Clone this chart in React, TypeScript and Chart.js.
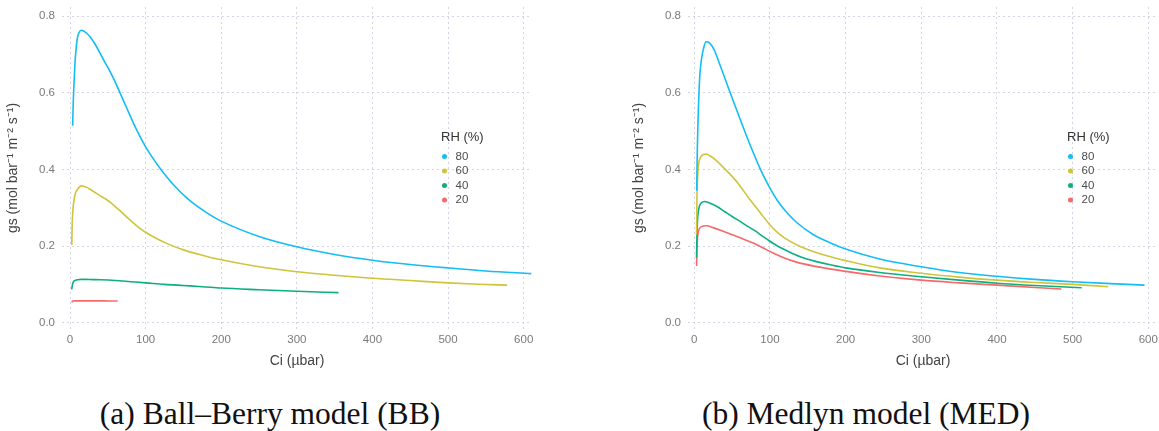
import React, { useEffect, useRef } from 'react';
import { Chart, registerables } from 'chart.js';

Chart.register(...registerables);

// ---------- labels, ticks, colours ----------
const seriesLabels = ['80', '60', '40', '20'];
const seriesColors = ['#14BDF2', '#CFC43A', '#0DAF80', '#F6696B'];
const legendTitle = 'RH (%)';
const xTitle = 'Ci (µbar)';
const yTitle = 'gs (mol bar⁻¹ m⁻² s⁻¹)';
const captionA = '(a) Ball–Berry model (BB)';
const captionB = '(b) Medlyn model (MED)';

const xTicks = [0, 100, 200, 300, 400, 500, 600];
const xTickLabels = ['0', '100', '200', '300', '400', '500', '600'];
const yTicks = [0, 0.2, 0.4, 0.6, 0.8];
const yTickLabels = ['0.0', '0.2', '0.4', '0.6', '0.8'];

// ---------- Ball–Berry (BB) ----------
const bbCi80 = [3.5, 4.2, 5.3, 6.5, 7.9, 9.7, 12, 14.6, 18, 22, 26.5, 33, 39.7, 46, 53, 60, 66, 75, 84, 92, 99, 110, 119, 135, 157, 180, 200, 250, 300, 350, 400, 450, 500, 550, 610];
const bbGs80 = [0.514, 0.57, 0.625, 0.675, 0.711, 0.742, 0.757, 0.763, 0.761, 0.755, 0.746, 0.727, 0.703, 0.68, 0.655, 0.627, 0.6, 0.56, 0.52, 0.488, 0.462, 0.428, 0.403, 0.364, 0.321, 0.288, 0.265, 0.225, 0.198, 0.178, 0.163, 0.152, 0.143, 0.135, 0.128];

const bbCi60 = [2.3, 2.8, 3.5, 4.3, 5.3, 7, 9.7, 12, 14.6, 18, 22, 26.5, 33, 40, 47.7, 55, 62, 70, 77, 84, 92, 100, 115, 130, 150, 175, 200, 250, 300, 350, 400, 450, 500, 540, 578];
const bbGs60 = [0.203, 0.25, 0.285, 0.305, 0.32, 0.337, 0.347, 0.353, 0.357, 0.356, 0.353, 0.348, 0.34, 0.331, 0.322, 0.311, 0.299, 0.285, 0.272, 0.26, 0.247, 0.236, 0.219, 0.205, 0.19, 0.176, 0.164, 0.146, 0.133, 0.124, 0.116, 0.11, 0.104, 0.1005, 0.098];

const bbCi40 = [2.3, 3, 4, 5.5, 7.5, 10, 15, 20, 30, 40, 60, 80, 100, 125, 150, 175, 200, 250, 300, 355];
const bbGs40 = [0.087, 0.097, 0.105, 0.109, 0.111, 0.112, 0.113, 0.113, 0.1125, 0.112, 0.11, 0.107, 0.104, 0.1, 0.097, 0.094, 0.0905, 0.086, 0.082, 0.0785];

const bbCi20 = [2.3, 3, 4, 6, 10, 20, 30, 40, 50, 63];
const bbGs20 = [0.053, 0.0555, 0.0565, 0.057, 0.057, 0.057, 0.057, 0.057, 0.0568, 0.0566];

// ---------- Medlyn (MED) ----------
const medCi80 = [3.2, 4, 5, 6, 7.5, 9.7, 12.8, 15.5, 20, 26, 34, 45, 55, 65, 76, 87, 98, 110, 122, 135, 157, 180, 200, 245, 300, 350, 400, 450, 500, 550, 595];
const medGs80 = [0.344, 0.45, 0.53, 0.59, 0.65, 0.69, 0.72, 0.733, 0.73, 0.713, 0.672, 0.613, 0.56, 0.508, 0.453, 0.402, 0.358, 0.318, 0.288, 0.262, 0.23, 0.208, 0.192, 0.166, 0.146, 0.131, 0.121, 0.113, 0.107, 0.102, 0.098];

const medCi60 = [3, 3.5, 4.2, 5, 6.5, 9, 12, 15.5, 20, 28, 40, 56, 74, 88, 100, 112, 125, 140, 160, 180, 200, 245, 300, 350, 400, 450, 500, 547];
const medGs60 = [0.23, 0.32, 0.37, 0.4, 0.422, 0.434, 0.439, 0.44, 0.436, 0.425, 0.402, 0.368, 0.32, 0.285, 0.255, 0.232, 0.214, 0.199, 0.184, 0.172, 0.162, 0.143, 0.129, 0.119, 0.111, 0.105, 0.1, 0.094];

const medCi40 = [3, 3.5, 4.2, 5, 6.5, 9, 14, 20, 30, 40, 50, 60, 70, 80, 90, 98, 110, 125, 140, 160, 180, 200, 245, 300, 350, 400, 450, 512];
const medGs40 = [0.17, 0.225, 0.265, 0.285, 0.302, 0.312, 0.316, 0.312, 0.303, 0.29, 0.277, 0.265, 0.252, 0.24, 0.226, 0.215, 0.2, 0.185, 0.172, 0.16, 0.151, 0.143, 0.131, 0.12, 0.111, 0.103, 0.097, 0.091];

const medCi20 = [3, 3.5, 4.2, 5, 6.5, 9, 16, 25, 40, 60, 80, 92, 100, 115, 135, 160, 200, 245, 300, 350, 400, 450, 485];
const medGs20 = [0.148, 0.19, 0.22, 0.234, 0.244, 0.25, 0.253, 0.248, 0.237, 0.222, 0.206, 0.194, 0.186, 0.172, 0.158, 0.147, 0.134, 0.122, 0.111, 0.104, 0.098, 0.092, 0.088];

const bbCi = [bbCi80, bbCi60, bbCi40, bbCi20];
const bbGs = [bbGs80, bbGs60, bbGs40, bbGs20];
const medCi = [medCi80, medCi60, medCi40, medCi20];
const medGs = [medGs80, medGs60, medGs40, medGs20];

const SANS = '"Liberation Sans", Arial, Helvetica, sans-serif';

const rhLegend = {
  id: 'rhLegend',
  afterDraw(chart: any) {
    const ctx = chart.ctx;
    const left = chart.chartArea.right - 91;
    ctx.save();
    ctx.textBaseline = 'middle';
    ctx.textAlign = 'left';
    ctx.font = `13px ${SANS}`;
    ctx.fillStyle = '#333333';
    ctx.fillText(legendTitle, left, 137);
    chart.data.datasets.forEach((ds: any, i: number) => {
      const y = 156.5 + i * 14.5;
      ctx.beginPath();
      ctx.arc(left + 3.5, y, 2.5, 0, Math.PI * 2);
      ctx.fillStyle = ds.borderColor;
      ctx.fill();
      ctx.font = `11.5px ${SANS}`;
      ctx.fillStyle = '#4d4d4d';
      ctx.fillText(ds.label, left + 14.5, y);
    });
    ctx.restore();
  },
};

function buildChart(canvas: HTMLCanvasElement, ciList: number[][], gsList: number[][], padRight: number, xMin: number, xMax: number) {
  const datasets = seriesLabels.map((label, i) => ({
    label,
    data: ciList[i].map((x, j) => ({ x, y: gsList[i][j] })),
    borderColor: seriesColors[i],
    backgroundColor: seriesColors[i],
    borderWidth: 1.6,
    pointRadius: 0,
    fill: false,
    cubicInterpolationMode: 'monotone' as const,
  }));
  return new Chart(canvas, {
    type: 'line',
    data: { datasets },
    plugins: [rhLegend],
    options: {
      responsive: false,
      animation: false,
      events: [],
      layout: { padding: { left: 0, right: padRight, top: 7, bottom: 0 } },
      plugins: { legend: { display: false }, tooltip: { enabled: false } },
      scales: {
        x: {
          type: 'linear',
          min: xMin,
          max: xMax,
          afterBuildTicks: (axis: any) => {
            axis.ticks = xTicks.map((v) => ({ value: v }));
          },
          afterFit: (axis: any) => {
            axis.height = 51;
            axis.paddingLeft = 0;
            axis.paddingRight = 0;
          },
          ticks: {
            color: '#7a7a7a',
            font: { family: SANS, size: 11.5 },
            padding: 4,
            maxRotation: 0,
            autoSkip: false,
            callback: (v: any) => {
              const k = xTicks.indexOf(Number(v));
              return k >= 0 ? xTickLabels[k] : '';
            },
          },
          grid: { color: '#d3d3e3', lineWidth: 1, drawTicks: false },
          border: { display: false, dash: [2, 3] },
          title: {
            display: true,
            text: xTitle,
            color: '#444444',
            font: { family: SANS, size: 14 },
            padding: { top: 0, bottom: 10.5 },
          },
        },
        y: {
          type: 'linear',
          min: -0.0164,
          max: 0.8235,
          afterBuildTicks: (axis: any) => {
            axis.ticks = yTicks.map((v) => ({ value: v }));
          },
          afterFit: (axis: any) => {
            axis.width = 62;
            axis.paddingTop = 0;
            axis.paddingBottom = 0;
          },
          ticks: {
            color: '#7a7a7a',
            font: { family: SANS, size: 11.5 },
            padding: 7,
            autoSkip: false,
            callback: (v: any) => {
              const k = yTicks.findIndex((t) => Math.abs(t - Number(v)) < 1e-9);
              return k >= 0 ? yTickLabels[k] : '';
            },
          },
          grid: { color: '#d3d3e3', lineWidth: 1, drawTicks: false },
          border: { display: false, dash: [2, 3] },
          title: {
            display: true,
            text: yTitle,
            color: '#444444',
            font: { family: SANS, size: 14 },
            padding: { top: 5, bottom: 0 },
          },
        },
      },
    },
  } as any);
}

export default function App() {
  const leftRef = useRef<HTMLCanvasElement>(null);
  const rightRef = useRef<HTMLCanvasElement>(null);

  useEffect(() => {
    const c1 = buildChart(leftRef.current!, bbCi, bbGs, 28, -10.6, 611);
    const c2 = buildChart(rightRef.current!, medCi, medGs, 1, -8.3, 612.8);
    return () => {
      c1.destroy();
      c2.destroy();
    };
  }, []);

  const captionStyle: React.CSSProperties = {
    position: 'absolute',
    top: 398,
    fontFamily: '"Liberation Serif", "Times New Roman", serif',
    fontSize: 31.5,
    lineHeight: '31.5px',
    color: '#111',
    textAlign: 'center',
    whiteSpace: 'nowrap',
  };

  return (
    <div style={{ position: 'absolute', left: 0, top: 0, width: 1159, height: 431, background: '#fff', overflow: 'hidden' }}>
      <canvas ref={leftRef} width={560} height={380} style={{ position: 'absolute', left: 0, top: 0, width: 560, height: 380 }} />
      <canvas ref={rightRef} width={533} height={380} style={{ position: 'absolute', left: 626, top: 0, width: 533, height: 380 }} />
      <div style={{ ...captionStyle, left: 0, width: 540 }}>{captionA}</div>
      <div style={{ ...captionStyle, left: 566, width: 600 }}>{captionB}</div>
    </div>
  );
}
